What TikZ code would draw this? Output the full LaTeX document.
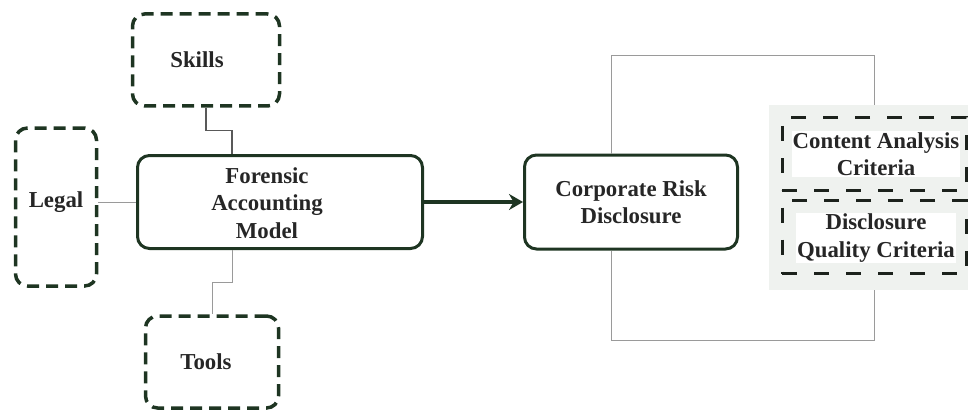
\documentclass[tikz,border=0pt]{standalone}
\usepackage{fontspec}
\setmainfont{Liberation Serif}
\usetikzlibrary{arrows.meta,calc}
\definecolor{boxgreen}{HTML}{1E3522}
\definecolor{darkdash}{HTML}{1C221C}
\definecolor{linkgray}{HTML}{9A9A9A}
\definecolor{panelgray}{HTML}{EFF2EF}
\begin{document}
\begin{tikzpicture}[x=1pt,y=-1pt,
  txt/.style={font=\fontsize{22.8}{27.5}\selectfont\bfseries, text=black!85, align=center},
  dashbox/.style={txt, draw=boxgreen, line width=3.5pt, dash pattern=on 12pt off 7pt,
    rounded corners=12pt, inner sep=0pt},
  solidbox/.style={txt, draw=boxgreen, line width=3pt, rounded corners=12pt, inner sep=0pt},
  critbox/.style={draw=darkdash, line width=3pt, dash pattern=on 15pt off 17pt, inner sep=0pt},
  critlabel/.style={txt, fill=white, inner sep=1pt},
  link/.style={draw=linkgray, line width=1pt},
  darklink/.style={draw=black!65, line width=1.3pt},
  flow/.style={draw=boxgreen, line width=4pt, -{Stealth[length=14pt,width=16pt]}}
]
\useasboundingbox (0,0) rectangle (968,417);

% factor boxes around the model
\node[dashbox, minimum width=147pt, minimum height=92pt] (skills) at (206,60) {Skills\hspace{18pt}};
\node[dashbox, minimum width=81pt, minimum height=158pt] (legal) at (56,207)
  {\raisebox{5pt}[\height][\depth]{Legal}};
\node[solidbox, minimum width=285pt, minimum height=93pt] (forensic) at (280,202)
  {\raisebox{-3pt}[\height][\depth]{\begin{tabular}{@{}c@{}}Forensic\\Accounting\\Model\end{tabular}}\hspace{26pt}};
\node[dashbox, minimum width=133pt, minimum height=92pt] (tools) at (212,362) {Tools\hspace{12pt}};

% outcome box
\node[solidbox, minimum width=213pt, minimum height=94pt] (crd) at (631,202)
  {Corporate Risk\\Disclosure};

% bracket joining the outcome to its criteria
\coordinate (topright) at (874,56);
\coordinate (botright) at (874,340);
\draw[link] ([xshift=-20pt]crd.north) |- (topright) -- (botright) -| ([xshift=-20pt]crd.south);

% criteria panel
\node[fill=panelgray, minimum width=199pt, minimum height=185pt, inner sep=0pt] (panel) at (868.5,197.5) {};
\node[critbox, minimum width=184pt, minimum height=72pt] (content) at (874,154) {};
\node[critbox, minimum width=184pt, minimum height=73pt] (quality) at (874,237) {};
\node[critlabel] (contentlbl) at (876,154) {Content Analysis\\Criteria};
\node[critlabel] (qualitylbl) at (876,238) {Disclosure\\Quality Criteria};

% connectors
\draw[darklink] (skills.south) -- ++(0,23) -| ([xshift=-48pt]forensic.north);
\draw[link] (forensic.west) -- (forensic.west -| legal.east);
\draw[link] ([xshift=-48pt]forensic.south) -- ++(0,32) -| (tools.north);
\draw[flow] (forensic.east) -- (crd.west);
\end{tikzpicture}
\end{document}
